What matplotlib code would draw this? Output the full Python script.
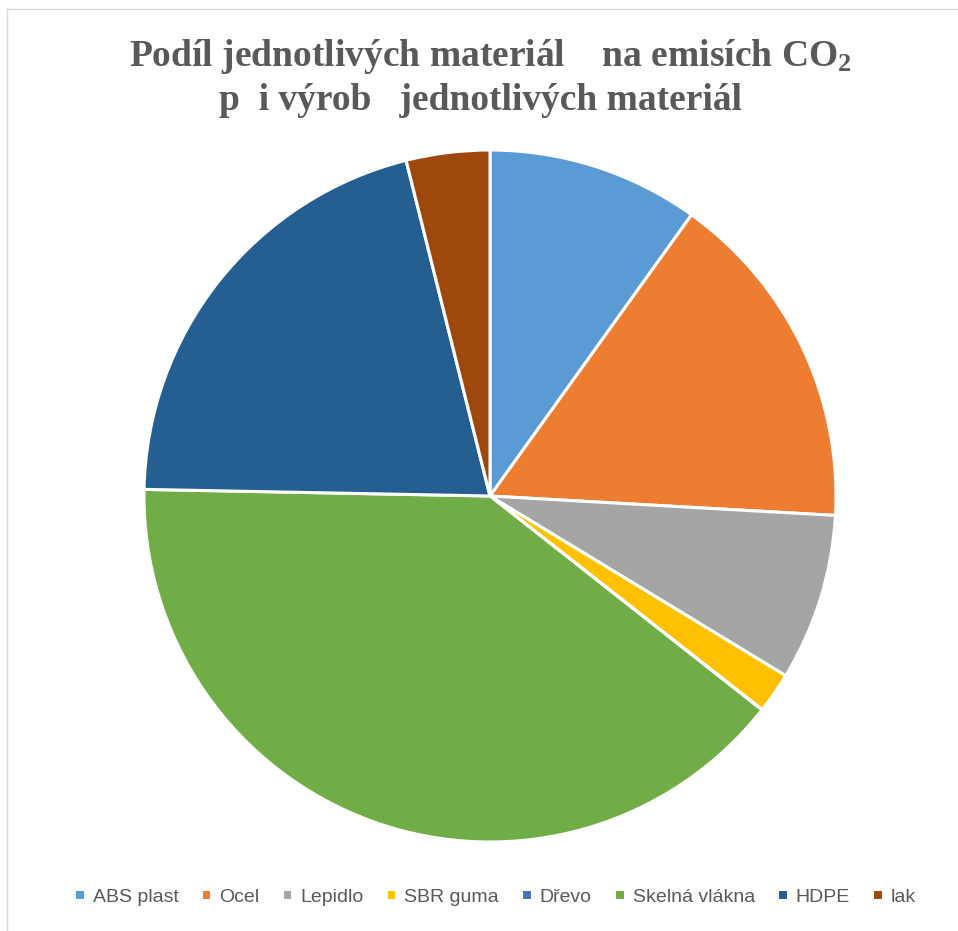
import numpy as np
import matplotlib.pyplot as plt
from matplotlib.lines import Line2D

plt.rcParams['mathtext.fontset'] = 'custom'
plt.rcParams['mathtext.rm'] = 'Liberation Serif:bold'
plt.rcParams['mathtext.it'] = 'Liberation Serif:bold'
plt.rcParams['mathtext.bf'] = 'Liberation Serif:bold'

# podíly (%)
materials = ['ABS plast', 'Ocel', 'Lepidlo', 'SBR guma', 'Dřevo', 'Skelná vlákna', 'HDPE', 'lak']
shares = [9.9, 16.0, 7.8, 1.9, 0.02, 39.7, 20.8, 3.9]
colors = ['#5B9BD5', '#ED7D31', '#A5A5A5', '#FFC000', '#4472C4', '#70AD47', '#255E91', '#9E480E']

title_1 = 'Podíl jednotlivých materiál    na emisích CO$_2$'
title_2 = 'p  i výrob   jednotlivých materiál  '

W, H = 958, 931
fig = plt.figure(figsize=(W / 100, H / 100), dpi=100)

# pie axes: centre (490, 496) px, radius 346 px
cx, cy, r = 490, 496, 346
ax = fig.add_axes([(cx - r) / W, (H - cy - r) / H, 2 * r / W, 2 * r / H])
wedges, _ = ax.pie(shares, colors=colors, startangle=90, counterclock=False,
                   wedgeprops=dict(edgecolor='white', linewidth=2.2, clip_on=False))
ax.set_xlim(-1, 1)
ax.set_ylim(-1, 1)
ax.set_aspect('equal')
ax.axis('off')

fig.text(cx / W, 1 - 56 / H, title_1, ha='center', va='center', fontsize=27,
         fontweight='bold', family='Liberation Serif', color='#595959')
fig.text(cx / W, 1 - 101 / H, title_2, ha='center', va='center', fontsize=27,
         fontweight='bold', family='Liberation Serif', color='#595959')

leg = fig.legend(wedges, materials, loc='center', bbox_to_anchor=(495 / W, 1 - 897 / H),
                 ncol=8, frameon=False, handlelength=0.55, handleheight=0.55,
                 handletextpad=0.4, columnspacing=1.15,
                 prop={'family': 'Liberation Sans', 'size': 14})
for t in leg.get_texts():
    t.set_color('#595959')

# chart area frame (only top and left edges visible in the crop)
fig.add_artist(Line2D([7 / W, 1], [1 - 9 / H, 1 - 9 / H], transform=fig.transFigure,
                      color='#D9D9D9', linewidth=1))
fig.add_artist(Line2D([7 / W, 7 / W], [0, 1 - 9 / H], transform=fig.transFigure,
                      color='#D9D9D9', linewidth=1))

fig.savefig('out.png', dpi=100, facecolor='white')
